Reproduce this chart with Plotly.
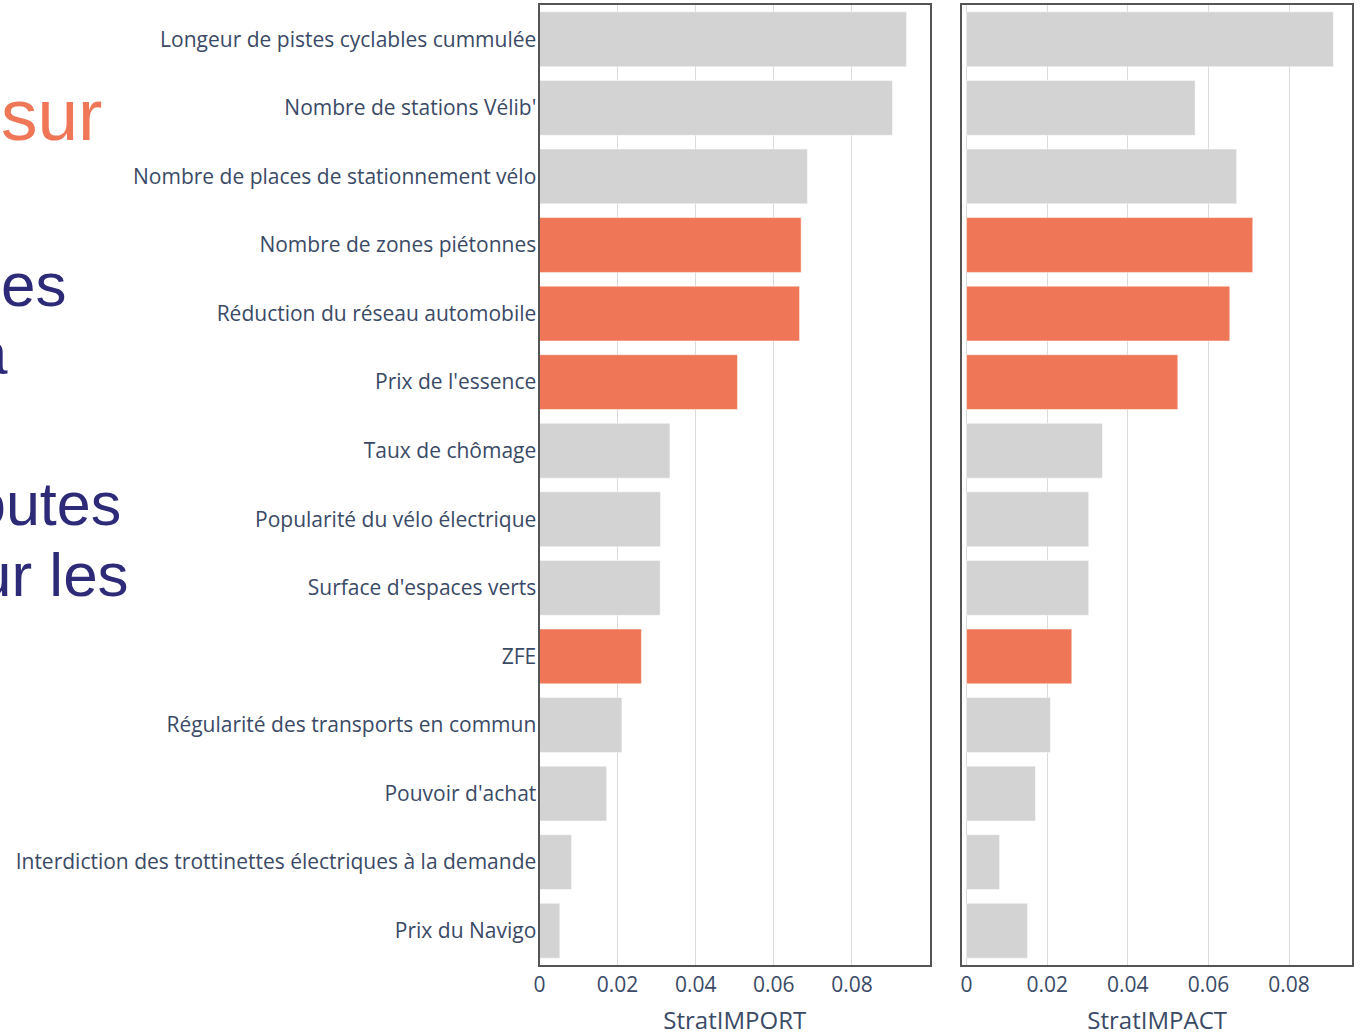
import plotly.graph_objects as go

categories = [
    "Longeur de pistes cyclables cummulée",
    "Nombre de stations Vélib'",
    "Nombre de places de stationnement vélo",
    "Nombre de zones piétonnes",
    "Réduction du réseau automobile",
    "Prix de l'essence",
    "Taux de chômage",
    "Popularité du vélo électrique",
    "Surface d'espaces verts",
    "ZFE",
    "Régularité des transports en commun",
    "Pouvoir d'achat",
    "Interdiction des trottinettes électriques à la demande",
    "Prix du Navigo",
]
strat_import = [0.0940, 0.0904, 0.0686, 0.0670, 0.0666, 0.0507, 0.0334,
                0.0310, 0.0309, 0.0261, 0.0211, 0.0172, 0.0082, 0.0052]
strat_impact = [0.0910, 0.0567, 0.0670, 0.0710, 0.0653, 0.0524, 0.0337,
                0.0303, 0.0303, 0.0261, 0.0208, 0.0171, 0.0082, 0.0151]
highlighted = [
    "Nombre de zones piétonnes",
    "Réduction du réseau automobile",
    "Prix de l'essence",
    "ZFE",
]
x_ticks = [0, 0.02, 0.04, 0.06, 0.08]
# fragments of the slide text visible behind the chart
slide_words = ["sur", "es", "a", "outes", "ur les"]

W, H = 1363, 1036
GREY = "#d3d3d3"
ORANGE = "#ef7757"
NAVY = "#2d2a78"
TEXT = "#3a4a66"

colors = [ORANGE if c in highlighted else GREY for c in categories]

fig = go.Figure()
fig.add_trace(go.Bar(x=strat_import, y=categories, orientation="h",
                     marker=dict(color=colors, line=dict(color="white", width=0.5)),
                     xaxis="x", yaxis="y", showlegend=False))
fig.add_trace(go.Bar(x=strat_impact, y=categories, orientation="h",
                     marker=dict(color=colors, line=dict(color="white", width=0.5)),
                     xaxis="x2", yaxis="y2", showlegend=False))

frame = dict(showline=True, mirror=True, linecolor="#555555", linewidth=2,
             automargin=False)
x_common = dict(frame, tickvals=x_ticks, showgrid=True, gridcolor="#dadada",
                gridwidth=1, zeroline=False, ticks="",
                tickfont=dict(size=21, color=TEXT),
                title=dict(font=dict(size=24, color=TEXT), standoff=23))
y_dom = [(H - 965) / H, (H - 5) / H]
y_common = dict(frame, categoryorder="array", categoryarray=categories[::-1],
                range=[-0.5, 13.5], showgrid=False, zeroline=False, ticks="",
                domain=y_dom, tickfont=dict(size=21, color=TEXT))

fig.update_layout(
    width=W, height=H,
    margin=dict(l=0, r=0, t=0, b=0),
    template="plotly_white",
    font=dict(family="Open Sans", color=TEXT),
    bargap=0.2,
    plot_bgcolor="white",
    paper_bgcolor="white",
    xaxis=dict(x_common, domain=[539.5 / W, 930 / W], range=[0, 0.1],
               anchor="y", title_text="StratIMPORT"),
    xaxis2=dict(x_common, domain=[962 / W, 1352.3 / W], range=[-0.00114, 0.0957],
                anchor="y2", title_text="StratIMPACT"),
    yaxis=dict(y_common, anchor="x", ticklabelstandoff=-3),
    yaxis2=dict(y_common, anchor="x2", matches="y", showticklabels=False),
)

# slide text fragments, cut by the left edge of the page
word_pos = [(104, 114.5, 73, ORANGE), (68, 284, 62, NAVY), (10, 352, 62, NAVY),
            (123, 504, 61, NAVY), (131, 574, 62, NAVY)]
for word, (px, py, size, col) in zip(slide_words, word_pos):
    fig.add_annotation(text=word, xref="paper", yref="paper",
                       x=px / W, y=1 - py / H, xanchor="right", yanchor="middle",
                       showarrow=False,
                       font=dict(family="Liberation Sans, Arial", size=size, color=col))

fig.write_html("out.html", config={"displayModeBar": False},
               post_script="document.body.style.margin='0';document.body.style.overflow='hidden';")
